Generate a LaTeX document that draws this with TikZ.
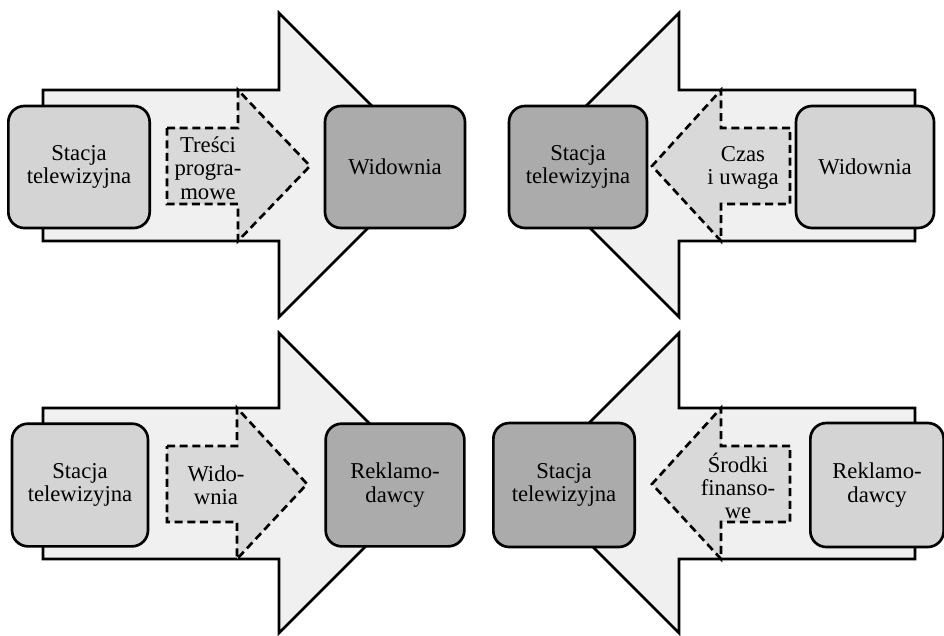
\documentclass[tikz,border=0pt]{standalone}
\usepackage{fontspec}
\setmainfont{Liberation Serif}
\newfontfamily\boxfont{Liberation Serif}
\usepackage{xcolor}
\usetikzlibrary{positioning}
\definecolor{arrowfill}{gray}{0.94}
\definecolor{flowfill}{gray}{0.85}
\definecolor{lightbox}{gray}{0.83}
\definecolor{darkbox}{gray}{0.67}

\begin{document}
\begin{tikzpicture}[x=0.75pt, y=-0.75pt, line join=miter]
        % Styles
        \tikzstyle{bigarrow} = [draw, line width=2pt, fill=arrowfill]
        \tikzstyle{flow} = [draw, line width=2pt, dash pattern=on 6pt off 3.5pt, fill=flowfill]
        \tikzstyle{light} = [rectangle, draw, line width=2pt, fill=lightbox, rounded corners=12pt, align=center, font=\boxfont\fontsize{17}{17.5}\selectfont]
        \tikzstyle{dark} = [light, fill=darkbox]
        \tikzstyle{flowtext} = [align=center, font=\boxfont\fontsize{17}{17.5}\selectfont, inner sep=0pt]

        \useasboundingbox (0,0) rectangle (944,635);

        % Panel 1: Stacja -> Widownia
        \draw [bigarrow] (43,90) -- (279,90) -- (279,13) -- (431,165) -- (279,317) -- (279,241) -- (43,241) -- cycle;
        \draw [flow] (167,128) -- (238,128) -- (238,90) -- (310,166) -- (238,241) -- (238,204) -- (167,204) -- cycle;
        \node [light, minimum width=106pt, minimum height=91.5pt] (stacjaA) at (79,167) {Stacja\\telewizyjna};
        \node [dark, minimum width=105pt, minimum height=91.5pt] (widowniaA) at (395,167) {Widownia};
        \node [flowtext] (tresci) at (208,168) {Treści\\progra-\\mowe};

        % Panel 2: Widownia -> Stacja
        \draw [bigarrow] (915,90) -- (679,90) -- (679,13) -- (527,165) -- (679,317) -- (679,241) -- (915,241) -- cycle;
        \draw [flow] (790,128) -- (721,128) -- (721,90) -- (652,166) -- (721,241) -- (721,204) -- (790,204) -- cycle;
        \node [dark, minimum width=103.5pt, minimum height=91.5pt] (stacjaB) at (578,167) {Stacja\\telewizyjna};
        \node [light, minimum width=103.5pt, minimum height=91.5pt] (widowniaB) at (865,167) {Widownia};
        \node [flowtext] (czas) at (743,168) {Czas\\i uwaga};

        % Panel 3: Stacja -> Reklamodawcy
        \draw [bigarrow] (43,408) -- (279,408) -- (279,333) -- (429,483) -- (279,633) -- (279,559) -- (43,559) -- cycle;
        \draw [flow] (167,446) -- (237,446) -- (237,408) -- (307,484) -- (237,559) -- (237,522) -- (167,522) -- cycle;
        \node [light, minimum width=102pt, minimum height=92pt] (stacjaC) at (80,485) {Stacja\\telewizyjna};
        \node [dark, minimum width=104pt, minimum height=92pt] (reklamaC) at (395,485) {Reklamo-\\dawcy};
        \node [flowtext] (widzowie) at (216,485) {Wido-\\wnia};

        % Panel 4: Reklamodawcy -> Stacja
        \draw [bigarrow] (915,408) -- (679,408) -- (679,333) -- (529,483) -- (679,633) -- (679,559) -- (915,559) -- cycle;
        \draw [flow] (790,446) -- (721,446) -- (721,408) -- (652,484) -- (721,559) -- (721,522) -- (790,522) -- cycle;
        \node [dark, minimum width=106pt, minimum height=93pt] (stacjaD) at (564,485) {Stacja\\telewizyjna};
        \node [light, minimum width=100pt, minimum height=93pt] (reklamaD) at (877,485) {Reklamo-\\dawcy};
        \node [flowtext] (srodki) at (738,486) {Środki\\finanso-\\we};

    \end{tikzpicture}
\end{document}
